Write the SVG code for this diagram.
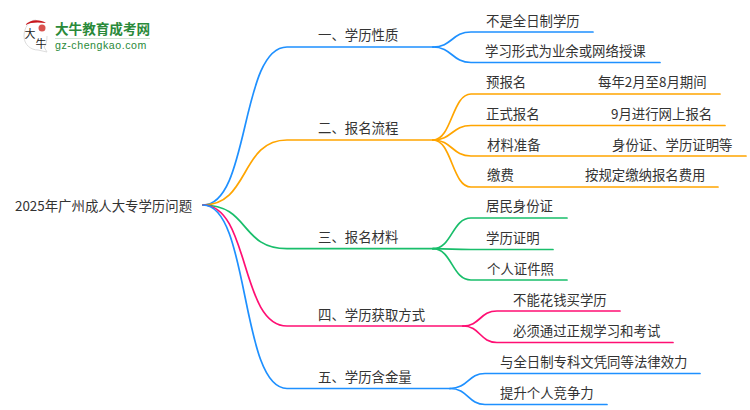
<svg xmlns="http://www.w3.org/2000/svg" width="750" height="410" viewBox="0 0 750 410">
<style>
text{font-family:"Noto Sans CJK SC","Noto Sans",sans-serif;font-size:13.4px;fill:#333}
.c{fill:none;stroke-width:1.7;stroke-linecap:round}
.b{stroke:#1e90ff}.o{stroke:#ffa500}.g{stroke:#19be6b}.p{stroke:#ff0f73}
</style>
<rect width="750" height="410" fill="#fff"/>
<g id="logo">
<path d="M36 20C29 20 24 28 24 36C24 45 31 50 38 50L47 52L44 47C46 45 47 41 47 36" fill="#fff" stroke="#ddd" stroke-width="1"/>
<path d="M25 25C30 19 40 19 46 23C38 22 31 22 25 25Z" fill="#c8161d"/>
<circle cx="42" cy="28" r="3.500" fill="#d9534f"/>
<text x="24.500" y="37.500" style="font-size:11px;fill:#222">大</text>
<text x="35.500" y="48" style="font-size:11px;fill:#222">牛</text>
<text x="55" y="34" style="font-size:13.600px;font-weight:700;fill:#2a8a3a">大牛教育成考网</text>
<rect x="55" y="38" width="95" height="1" fill="#cfe3d2"/>
<text x="55" y="49" style="font-size:10.600px;fill:#2a8a3a;font-family:'Liberation Sans',sans-serif;letter-spacing:.55px">gz-chengkao.com</text>
</g>
<g id="connectors">
<path class="c b" d="M203 205C250 205 240 47 287 47H433"/>
<path class="c o" d="M203 205C250 205 240 140 287 140H433"/>
<path class="c g" d="M203 205C250 205 240 248.700 287 248.700H433"/>
<path class="c p" d="M203 205C250 205 240 326 287 326H463"/>
<path class="c b" d="M203 205C250 205 240 388.500 287 388.500H450"/>
<path class="c b" d="M433 47C452 47 452 32 471 32H593"/>
<path class="c b" d="M433 47C452 47 452 62.500 471 62.500H660"/>
<path class="c o" d="M433 140C452 140 452 94 471 94H720"/>
<path class="c o" d="M433 140C452 140 452 125.500 471 125.500H725"/>
<path class="c o" d="M433 140C452 140 452 156 471 156H746"/>
<path class="c o" d="M433 140C452 140 452 187 471 187H718"/>
<path class="c g" d="M433 248.700C452 248.700 452 218 471 218H567"/>
<path class="c g" d="M433 248.700C452 248.700 452 249.500 471 249.500H553"/>
<path class="c g" d="M433 248.700C452 248.700 452 280 471 280H567"/>
<path class="c p" d="M463 326C480 326 480 311 497 311H620"/>
<path class="c p" d="M463 326C480 326 480 342.500 497 342.500H673"/>
<path class="c b" d="M450 388.500C468 388.500 468 373.500 485 373.500H700"/>
<path class="c b" d="M450 388.500C468 388.500 468 404.500 485 404.500H607"/>
</g>
<g id="root"><text x="15" y="210.500">2025年广州成人大专学历问题</text></g>
<g id="n1"><text x="318" y="40">一、学历性质</text></g>
<g id="n2"><text x="318" y="133">二、报名流程</text></g>
<g id="n3"><text x="318" y="242">三、报名材料</text></g>
<g id="n4"><text x="318" y="320">四、学历获取方式</text></g>
<g id="n5"><text x="318" y="381.500">五、学历含金量</text></g>
<g id="n11"><text x="486" y="25.500">不是全日制学历</text></g>
<g id="n12"><text x="485" y="56">学习形式为业余或网络授课</text></g>
<g id="n21"><text x="486" y="87">预报名</text><text x="598" y="87">每年2月至8月期间</text></g>
<g id="n22"><text x="486" y="118.500">正式报名</text><text x="611" y="118.500">9月进行网上报名</text></g>
<g id="n23"><text x="487" y="149.500">材料准备</text><text x="612" y="149.500">身份证、学历证明等</text></g>
<g id="n24"><text x="487" y="180">缴费</text><text x="585" y="180">按规定缴纳报名费用</text></g>
<g id="n31"><text x="486" y="211">居民身份证</text></g>
<g id="n32"><text x="486" y="242.500">学历证明</text></g>
<g id="n33"><text x="487" y="273.500">个人证件照</text></g>
<g id="n41"><text x="513" y="304.500">不能花钱买学历</text></g>
<g id="n42"><text x="513" y="336">必须通过正规学习和考试</text></g>
<g id="n51"><text x="500" y="366.500">与全日制专科文凭同等法律效力</text></g>
<g id="n52"><text x="500" y="397.500">提升个人竞争力</text></g>
</svg>
